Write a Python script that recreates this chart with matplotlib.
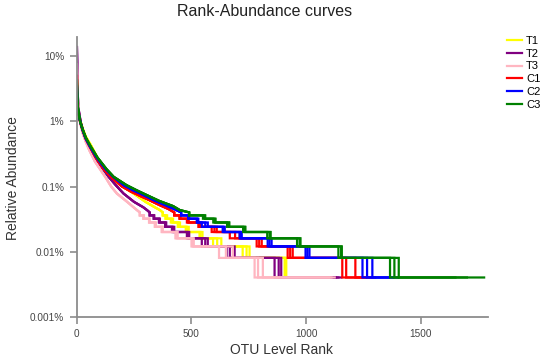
import matplotlib
matplotlib.use("Agg")
import matplotlib.pyplot as plt
from matplotlib.lines import Line2D

# ---------------- data ----------------
groups = ["T1", "T2", "T3", "C1", "C2", "C3"]
colors = ["#FFFF00", "#800080", "#FFB6C1", "#FF0000", "#0000FF", "#008000"]

unit_pct = 0.004  # abundance (%) of a single read

# head of each curve: rank, relative abundance (%)
t1_head_rank = [1, 2, 3, 5, 8, 15, 26, 40, 62, 90, 130, 170, 200, 248, 300, 340, 362, 375]
t1_head_pct = [4.0, 3.0, 2.3, 1.8, 1.45, 1.05, 0.78, 0.58, 0.43, 0.28, 0.175, 0.12, 0.1, 0.078, 0.058, 0.048, 0.0435, 0.04]
t2_head_rank = [1, 2, 3, 4, 6, 10, 18, 30, 45, 60, 90, 139, 170, 204, 250, 290, 306, 318]
t2_head_pct = [13.9, 8.5, 4.5, 3.0, 2.0, 1.4, 0.95, 0.68, 0.5, 0.38, 0.24, 0.141, 0.105, 0.078, 0.058, 0.048, 0.0435, 0.04]
t3_head_rank = [1, 2, 3, 5, 8, 15, 26, 40, 55, 80, 124, 150, 175, 215, 262, 275]
t3_head_pct = [7.5, 4.8, 3.4, 2.2, 1.4, 0.95, 0.66, 0.48, 0.36, 0.24, 0.141, 0.1, 0.078, 0.06, 0.0435, 0.04]
c1_head_rank = [1, 2, 3, 5, 8, 15, 25, 38, 55, 82, 118, 155, 197, 235, 275, 315, 360, 400, 425]
c1_head_pct = [5.0, 2.8, 2.1, 1.6, 1.3, 0.98, 0.74, 0.55, 0.42, 0.28, 0.185, 0.135, 0.1, 0.084, 0.072, 0.062, 0.052, 0.045, 0.04]
c2_head_rank = [1, 2, 3, 5, 8, 15, 25, 38, 55, 85, 123, 160, 205, 245, 288, 335, 385, 425, 455]
c2_head_pct = [3.5, 2.6, 2.1, 1.65, 1.35, 1.0, 0.75, 0.56, 0.43, 0.285, 0.19, 0.14, 0.105, 0.088, 0.075, 0.062, 0.052, 0.045, 0.04]
c3_head_rank = [1, 2, 3, 5, 8, 15, 26, 40, 58, 90, 130, 161, 217, 260, 291, 360, 420, 449, 490]
c3_head_pct = [4.3, 2.8, 2.2, 1.7, 1.4, 1.0, 0.75, 0.56, 0.43, 0.28, 0.185, 0.141, 0.105, 0.088, 0.078, 0.06, 0.05, 0.0435, 0.04]

# tail: last rank having >= k reads, k = 1..9, for three replicates per group
t1_tail = [[1090, 906, 723, 594, 540, 480, 445, 415, 390],
           [1070, 913, 753, 630, 548, 488, 450, 420, 394],
           [1050, 910, 740, 612, 535, 475, 440, 410, 386]]
t2_tail = [[1153, 862, 653, 545, 480, 415, 385, 358, 335],
           [1140, 880, 667, 571, 490, 425, 390, 362, 338],
           [1130, 891, 688, 560, 485, 420, 387, 360, 336]]
t3_tail = [[1124, 775, 650, 500, 430, 370, 340, 315, 290],
           [1110, 811, 620, 510, 440, 375, 345, 318, 293],
           [1100, 790, 680, 505, 435, 372, 342, 316, 291]]
c1_tail = [[1300, 1157, 919, 784, 667, 588, 530, 480, 447],
           [1280, 1174, 941, 806, 710, 610, 540, 488, 452],
           [1260, 1214, 930, 795, 690, 600, 535, 484, 450]]
c2_tail = [[1400, 1245, 997, 832, 710, 636, 545, 523, 485],
           [1380, 1288, 1014, 849, 719, 645, 571, 530, 490],
           [1360, 1265, 1005, 840, 715, 640, 560, 526, 488]]
c3_tail = [[1775, 1365, 1152, 971, 840, 732, 663, 601, 558],
           [1700, 1384, 1140, 960, 830, 725, 655, 595, 550],
           [1650, 1403, 1155, 975, 845, 735, 665, 605, 560]]

heads = [(t1_head_rank, t1_head_pct), (t2_head_rank, t2_head_pct), (t3_head_rank, t3_head_pct),
         (c1_head_rank, c1_head_pct), (c2_head_rank, c2_head_pct), (c3_head_rank, c3_head_pct)]
tails = [t1_tail, t2_tail, t3_tail, c1_tail, c2_tail, c3_tail]

y_ticks = [1e-5, 1e-4, 1e-3, 1e-2, 1e-1]
y_ticklabels = ["0.001%", "0.01%", "0.1%", "1%", "10%"]
x_ticks = [0, 500, 1000, 1500]

# ---------------- plot ----------------
plt.rcParams["font.family"] = ["Liberation Sans", "DejaVu Sans"]
fig = plt.figure(figsize=(5.46, 3.57), dpi=100)
ax = fig.add_axes([0.1405, 0.113, 0.7525, 0.784])

for name, col, (hr, hp), tail in zip(groups, colors, heads, tails):
    for rep in tail:
        xs = list(hr)
        ys = [p / 100 for p in hp]
        prev = hr[-1]
        for k in range(len(rep), 0, -1):
            lvl = k * unit_pct / 100
            xs += [prev, rep[k - 1]]
            ys += [lvl, lvl]
            prev = rep[k - 1]
        ax.plot(xs, ys, color=col, lw=1.6, solid_joinstyle="miter")

ax.set_yscale("log")
ax.set_ylim(1e-5, 0.2)
ax.set_xlim(0, 1790)
ax.set_yticks(y_ticks)
ax.set_yticklabels(y_ticklabels)
ax.minorticks_off()
ax.set_xticks(x_ticks)
ax.set_xticklabels([str(v) for v in x_ticks])

for s in ["top", "right"]:
    ax.spines[s].set_visible(False)
for s in ["left", "bottom"]:
    ax.spines[s].set_color("#8c8c8c")
    ax.spines[s].set_linewidth(1.3)
ax.tick_params(colors="#8c8c8c", labelcolor="#444444", labelsize=7.2, length=5, width=1.2, pad=4)

fig.text(0.485, 0.968, "Rank-Abundance curves", ha="center", va="center", fontsize=11.5, color="#222222")
fig.text(0.516, 0.02, "OTU Level Rank", ha="center", va="center", fontsize=10, color="#333333")
fig.text(0.024, 0.5, "Relative Abundance", ha="center", va="center", rotation=90, fontsize=10, color="#333333")

handles = [Line2D([0], [0], color=c, lw=1.6) for c in colors]
fig.legend(handles, groups, loc="upper left", bbox_to_anchor=(0.9286, 0.9), frameon=False,
           fontsize=8, handlelength=1.35, handletextpad=0.35, labelspacing=0.26, borderpad=0,
           borderaxespad=0)

fig.savefig("out.png", dpi=100)
